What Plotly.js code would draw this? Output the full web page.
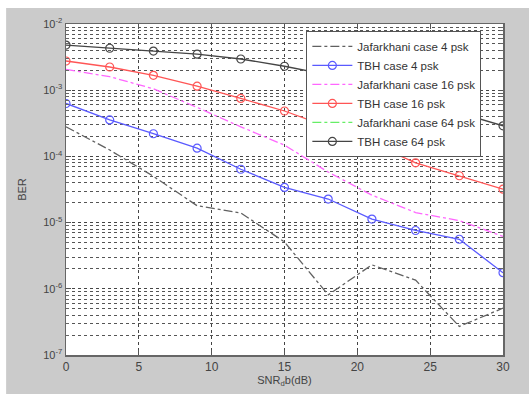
<!DOCTYPE html>
<html>
<head>
<meta charset="utf-8">
<script src="https://cdn.plot.ly/plotly-3.0.1.min.js"></script>
<style>html,body{margin:0;padding:0;background:#fff;}#chart{width:529px;height:394px;}</style>
</head>
<body>
<div id="chart"></div>
<script>
// SNR (dB)
const snr = [0, 3, 6, 9, 12, 15, 18, 21, 24, 27, 30];
// BER series
const jafar4 = [2.8e-4, 1.25e-4, 5.0e-5, 1.8e-5, 1.4e-5, 5.1e-6, 8.1e-7, 2.3e-6, 1.35e-6, 2.7e-7, 5.1e-7];
const tbh4 = [6.3e-4, 3.55e-4, 2.2e-4, 1.33e-4, 6.4e-5, 3.4e-5, 2.27e-5, 1.13e-5, 7.6e-6, 5.6e-6, 1.75e-6];
const jafar16 = [2.07e-3, 1.6e-3, 1.05e-3, 5.5e-4, 2.8e-4, 1.48e-4, 5.8e-5, 2.6e-5, 1.42e-5, 1.07e-5, 6.2e-6];
const tbh16 = [2.76e-3, 2.24e-3, 1.68e-3, 1.15e-3, 7.5e-4, 4.85e-4, 2.8e-4, 1.58e-4, 8.0e-5, 5.1e-5, 3.2e-5];
const jafar64 = [null, null, null, null, null, null, null, null, null, null, null];
const tbh64 = [4.8e-3, 4.3e-3, 3.9e-3, 3.5e-3, 2.96e-3, 2.3e-3, 1.7e-3, 1.12e-3, 7.1e-4, 4.5e-4, 2.9e-4];

const seriesNames = ["Jafarkhani case 4 psk", "TBH case 4 psk", "Jafarkhani case 16 psk", "TBH case 16 psk", "Jafarkhani case 64 psk", "TBH case 64 psk"];
const xTicks = [0, 5, 10, 15, 20, 25, 30];
const yTickExp = [-7, -6, -5, -4, -3, -2];

const yTickVals = yTickExp.map(e => Math.pow(10, e));
const yTickText = yTickExp.map(e => "10<sup>" + e + "</sup>");
const minorVals = [];
for (let e = -7; e < -2; e++) for (let m = 2; m <= 9; m++) minorVals.push(m * Math.pow(10, e));

function dashTrace(y, name, color) {
  return {x: snr, y: y, name: name, type: 'scatter', mode: 'lines',
          line: {color: color, width: 1.3, dash: 'dashdot'}};
}
function markTrace(y, name, color) {
  return {x: snr, y: y, name: name, type: 'scatter', mode: 'lines+markers',
          line: {color: color, width: 1.3},
          marker: {symbol: 'circle-open', size: 8, color: color, line: {width: 1.2, color: color}}};
}

const data = [
  dashTrace(jafar4, seriesNames[0], '#606060'),
  markTrace(tbh4, seriesNames[1], '#5a5aff'),
  dashTrace(jafar16, seriesNames[2], '#ff66ff'),
  markTrace(tbh16, seriesNames[3], '#ff5555'),
  dashTrace(jafar64, seriesNames[4], '#66ee66'),
  markTrace(tbh64, seriesNames[5], '#454545')
];

const layout = {
  width: 529, height: 394,
  margin: {l: 66, r: 26, t: 24, b: 39},
  paper_bgcolor: '#cbcbcb',
  plot_bgcolor: '#ffffff',
  font: {family: 'Liberation Sans, Arial, sans-serif', size: 11, color: '#333'},
  showlegend: true,
  legend: {x: 0.55, y: 0.979, xanchor: 'left', yanchor: 'top',
           bgcolor: '#ffffff', bordercolor: '#555', borderwidth: 1,
           font: {size: 11.5, color: '#333'}, tracegroupgap: 0, itemwidth: 40},
  xaxis: {range: [0, 30], tickvals: xTicks, ticktext: xTicks.map(String),
          showgrid: true, gridcolor: '#444', griddash: 'dot', gridwidth: 1,
          ticks: 'inside', ticklen: 5, tickcolor: '#555', mirror: 'ticks',
          showline: true, linecolor: '#666', linewidth: 1.5, zeroline: false,
          tickfont: {size: 12, color: '#444'},
          title: {text: 'SNR<sub>d</sub>b(dB)', standoff: 2, font: {size: 11, color: '#444'}}},
  yaxis: {type: 'log', range: [-7, -2], tickvals: yTickVals, ticktext: yTickText,
          showgrid: true, gridcolor: '#444', griddash: 'dot', gridwidth: 1,
          ticks: 'inside', ticklen: 5, tickcolor: '#555', mirror: 'ticks',
          showline: true, linecolor: '#666', linewidth: 1.5, zeroline: false,
          tickfont: {size: 11, color: '#444'},
          minor: {tickmode: 'array', tickvals: minorVals, showgrid: true, gridcolor: '#555',
                  griddash: 'dot', gridwidth: 1, ticks: 'inside', ticklen: 3, tickcolor: '#666'},
          title: {text: 'BER', standoff: 14, font: {size: 11, color: '#444'}}},
  shapes: [
    {type: 'rect', xref: 'paper', yref: 'paper', x0: -0.2, x1: 1.1, y0: 1.048, y1: 1.1,
     fillcolor: '#ffffff', line: {width: 0}, layer: 'below'},
    {type: 'rect', xref: 'paper', yref: 'paper', x0: -0.2, x1: -0.137, y0: -0.2, y1: 1.1,
     fillcolor: '#ffffff', line: {width: 0}, layer: 'below'}
  ]
};

Plotly.newPlot('chart', data, layout, {displayModeBar: false, staticPlot: true});
</script>
</body>
</html>
